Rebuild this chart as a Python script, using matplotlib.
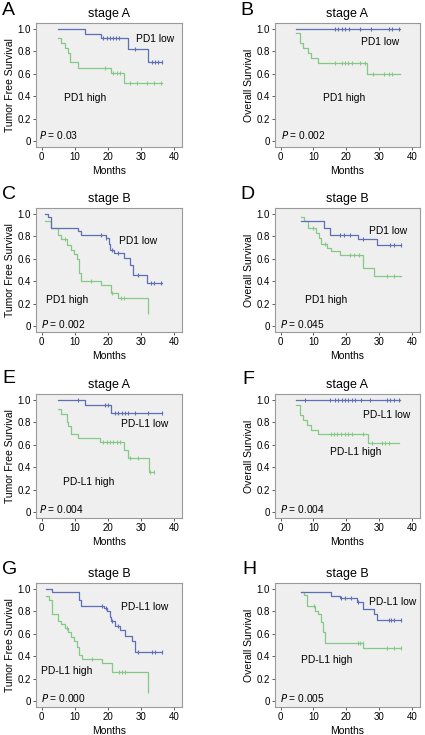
import numpy as np
import matplotlib
matplotlib.use("Agg")
import matplotlib.pyplot as plt

plt.rcParams['font.family'] = ['Liberation Sans', 'DejaVu Sans']

# ---- data: step times, survival levels, end of follow-up, censor times ----
# A: PD1, stage A, tumor free survival
a_low_t = [5, 13, 18, 26, 32.2]
a_low_s = [1.0, 0.958, 0.917, 0.825, 0.708]
a_low_end = 36.4
a_low_cens = [18.6, 19.6, 20.6, 21.6, 22.5, 23.3, 28.2, 33.2, 34.3, 35.3, 36.3]
a_high_t = [5, 5.8, 7, 8, 8.6, 11.1, 21, 25]
a_high_s = [0.917, 0.872, 0.827, 0.783, 0.708, 0.655, 0.61, 0.521]
a_high_end = 36.4
a_high_cens = [19, 21.7, 22.7, 23.7, 26.7, 28.7, 31.7, 34, 36.2]

# B: PD1, stage A, overall survival
b_low_t = [4.8]
b_low_s = [1.0]
b_low_end = 36.3
b_low_cens = [16.5, 17.6, 18.6, 19.6, 20.9, 24.2, 27.6, 32.9, 33.9, 36.1]
b_high_t = [4.8, 5.8, 6.8, 8.2, 9.1, 11.4, 26.4]
b_high_s = [0.961, 0.878, 0.833, 0.783, 0.738, 0.70, 0.598]
b_high_end = 36.4
b_high_cens = [16.5, 18.6, 19.6, 20.6, 21.6, 24.2, 25.7, 28.1, 31.3, 32.9, 33.9]

# C: PD1, stage B, tumor free survival
c_low_t = [1.0, 1.8, 2.7, 11.1, 11.9, 19.3, 20.2, 20.8, 22, 24.8, 26.6, 27.6, 31.7]
c_low_s = [1.0, 0.973, 0.874, 0.845, 0.815, 0.785, 0.734, 0.68, 0.651, 0.606, 0.546, 0.457, 0.388]
c_low_end = 36.4
c_low_cens = [18, 19.5, 21.2, 23, 29.2, 32.9, 33.9, 36.2]
c_high_t = [1.0, 2.7, 4.9, 6.0, 7.8, 8.8, 9.8, 10.7, 11.2, 12.0, 17.8, 21, 23, 32]
c_high_s = [0.94, 0.874, 0.815, 0.78, 0.72, 0.68, 0.64, 0.60, 0.47, 0.40, 0.367, 0.293, 0.248, 0.128]
c_high_end = 32
c_high_cens = [7, 15, 21.2, 24, 25, 32]

# D: PD1, stage B, overall survival
d_low_t = [6.1, 13.3, 15, 23.4, 29.3]
d_low_s = [0.94, 0.875, 0.815, 0.779, 0.725]
d_low_end = 36.6
d_low_cens = [18.1, 19.3, 21.1, 25.2, 33.4, 34.4, 36.6]
d_high_t = [6.3, 7.1, 8.4, 10.9, 11.6, 12.2, 14, 15.3, 18.1, 25.2, 28.3]
d_high_s = [0.97, 0.94, 0.874, 0.83, 0.785, 0.734, 0.695, 0.666, 0.63, 0.522, 0.45]
d_high_end = 36.6
d_high_cens = [9.9, 13.5, 21.1, 22.4, 23.7, 32.3, 34.4]

# E: PD-L1, stage A, tumor free survival
e_low_t = [5, 13.1, 21]
e_low_s = [1.0, 0.955, 0.887]
e_low_end = 36.4
e_low_cens = [11.1, 19.1, 19.9, 22.2, 23.2, 24.2, 25.2, 26.2, 28.2, 32.2, 36.3]
e_high_t = [5, 6, 7.6, 8.1, 8.8, 11.1, 17.6, 25, 26, 32.4]
e_high_s = [0.916, 0.875, 0.80, 0.767, 0.70, 0.663, 0.627, 0.552, 0.478, 0.358]
e_high_end = 34
e_high_cens = [18.6, 19.6, 20.7, 21.7, 22.7, 23.7, 26.7, 29.2, 32.7, 33.8]

# F: PD-L1, stage A, overall survival
f_low_t = [4.8]
f_low_s = [1.0]
f_low_end = 36.4
f_low_cens = [7.3, 15, 16.5, 17.6, 18.6, 19.6, 20.6, 21.6, 22.7, 24.5, 27.2, 32.3, 33.3, 34.4, 35.9]
f_high_t = [4.8, 5.8, 6.8, 7.9, 9.1, 11.4, 26.5]
f_high_s = [0.955, 0.87, 0.82, 0.779, 0.735, 0.70, 0.618]
f_high_end = 36.1
f_high_cens = [15.2, 16.3, 17.3, 18.4, 19.6, 20.6, 21.8, 25.2, 27.8, 30.8, 31.8, 32.9]

# G: PD-L1, stage B, tumor free survival
g_low_t = [1.3, 3, 11.3, 12, 18.8, 19.6, 20.7, 21.1, 22.2, 23.7, 25.2, 27.2, 28.2]
g_low_s = [1.0, 0.97, 0.90, 0.845, 0.83, 0.806, 0.746, 0.71, 0.672, 0.633, 0.58, 0.537, 0.44]
g_low_end = 36.4
g_low_cens = [18.1, 19.3, 21.2, 23, 29.2, 33.2, 34.3, 36.3]
g_high_t = [1.3, 2.2, 3, 5, 6, 7, 8.1, 8.8, 9.8, 10.6, 11.4, 12.1, 18.1, 21.2, 32]
g_high_s = [0.94, 0.90, 0.78, 0.716, 0.687, 0.651, 0.618, 0.573, 0.537, 0.478, 0.409, 0.373, 0.343, 0.263, 0.09]
g_high_end = 32
g_high_cens = [7.6, 15.1, 23.4, 24.2, 25.2, 32]

# H: PD-L1, stage B, overall survival
h_low_t = [6.1, 15.3, 18.1, 23.2, 25.2, 28.3, 29.3]
h_low_s = [0.97, 0.94, 0.916, 0.887, 0.82, 0.78, 0.72]
h_low_end = 36.6
h_low_cens = [18.4, 19.6, 21.4, 23.4, 32.9, 33.6, 34.4, 36.6]
h_high_t = [6.1, 7.1, 7.9, 10.4, 11.4, 12.4, 13, 13.5, 25.2]
h_high_s = [0.97, 0.946, 0.85, 0.806, 0.776, 0.707, 0.62, 0.522, 0.469]
h_high_end = 36.6
h_high_cens = [10.2, 23.4, 24.2, 25, 32.3, 34.4, 36.6]

letters = ["A", "B", "C", "D", "E", "F", "G", "H"]
titles = ["stage A", "stage A", "stage B", "stage B", "stage A", "stage A", "stage B", "stage B"]
ylabels = ["Tumor Free Survival", "Overall Survival"] * 4
low_labels = ["PD1 low"] * 4 + ["PD-L1 low"] * 4
high_labels = ["PD1 high"] * 4 + ["PD-L1 high"] * 4
p_values = ["0.03", "0.002", "0.002", "0.045", "0.004", "0.004", "0.000", "0.005"]

curves = [
    (a_low_t, a_low_s, a_low_end, a_low_cens, a_high_t, a_high_s, a_high_end, a_high_cens),
    (b_low_t, b_low_s, b_low_end, b_low_cens, b_high_t, b_high_s, b_high_end, b_high_cens),
    (c_low_t, c_low_s, c_low_end, c_low_cens, c_high_t, c_high_s, c_high_end, c_high_cens),
    (d_low_t, d_low_s, d_low_end, d_low_cens, d_high_t, d_high_s, d_high_end, d_high_cens),
    (e_low_t, e_low_s, e_low_end, e_low_cens, e_high_t, e_high_s, e_high_end, e_high_cens),
    (f_low_t, f_low_s, f_low_end, f_low_cens, f_high_t, f_high_s, f_high_end, f_high_cens),
    (g_low_t, g_low_s, g_low_end, g_low_cens, g_high_t, g_high_s, g_high_end, g_high_cens),
    (h_low_t, h_low_s, h_low_end, h_low_cens, h_high_t, h_high_s, h_high_end, h_high_cens),
]

# label positions (data coords) for the group names and the P value
low_pos = [(28.5, 0.91), (24.4, 0.88), (23.5, 0.755), (27, 0.845),
           (23.9, 0.79), (25.2, 0.87), (24, 0.84), (27, 0.88)]
high_pos = [(6.9, 0.38), (13, 0.38), (1.2, 0.23), (7.3, 0.23),
            (6.5, 0.27), (15, 0.54), (-0.2, 0.27), (6.3, 0.365)]
p_pos = [(-0.7, 0.05), (0.2, 0.05), (-0.3, 0.015), (-0.3, 0.015),
         (-0.7, 0.03), (-0.3, 0.03), (-0.2, 0.03), (-0.3, 0.03)]

blue = "#5f6fb5"
green = "#86c986"


def km(ax, t, s, end, cens, color):
    x = list(t) + [end]
    y = list(s) + [s[-1]]
    ax.step(x, y, where="post", color=color, lw=0.9)
    idx = np.searchsorted(t, cens, side="right") - 1
    cy = np.array(s)[np.clip(idx, 0, None)]
    ax.plot(cens, cy, "|", color=color, ms=2.2, mew=0.8)


fig = plt.figure(figsize=(4.25, 7.35), dpi=100)
W, H = 425, 735
cols = [(36, 146), (275, 145)]
rows = [23, 208, 394, 583]
ax_h = 124

for i in range(8):
    c = cols[i % 2]
    top = rows[i // 2]
    ax = fig.add_axes([c[0] / W, 1 - (top + ax_h) / H, c[1] / W, ax_h / H])
    ax.set_facecolor("#efefef")
    for sp in ax.spines.values():
        sp.set_color("#9a9a9a")
        sp.set_linewidth(0.8)
    lt, ls, le, lc, ht, hs, he, hc = curves[i]
    km(ax, ht, hs, he, hc, green)
    km(ax, lt, ls, le, lc, blue)
    ax.set_xlim(-1.7, 42.4)
    ax.set_ylim(-0.054, 1.054)
    ax.set_xticks([0, 10, 20, 30, 40])
    ax.set_yticks([0, 0.2, 0.4, 0.6, 0.8, 1.0])
    ax.set_yticklabels(["0", "0.2", "0.4", "0.6", "0.8", "1.0"])
    ax.tick_params(labelsize=7, length=2, width=0.6, pad=1.5, color="#444444")
    ax.set_xlabel("Months", fontsize=7.5, labelpad=3)
    ax.set_ylabel(ylabels[i], fontsize=7.5, labelpad=2)
    ax.set_title(titles[i], fontsize=9, pad=4)
    ax.text(low_pos[i][0], low_pos[i][1], low_labels[i], fontsize=7.4, va="center")
    ax.text(high_pos[i][0], high_pos[i][1], high_labels[i], fontsize=7.4, va="center")
    ax.text(p_pos[i][0], p_pos[i][1], "$\\mathit{P}$ = " + p_values[i], fontsize=7.3, va="center")

letter_xy = [(2, 2), (240, 2), (2, 186), (240, 186), (2, 370), (242, 371), (2, 561), (242, 561)]
for L, (x, y) in zip(letters, letter_xy):
    fig.text(x / W, 1 - y / H, L, fontsize=14, va="top", ha="left")

fig.savefig("out.png", dpi=100)
